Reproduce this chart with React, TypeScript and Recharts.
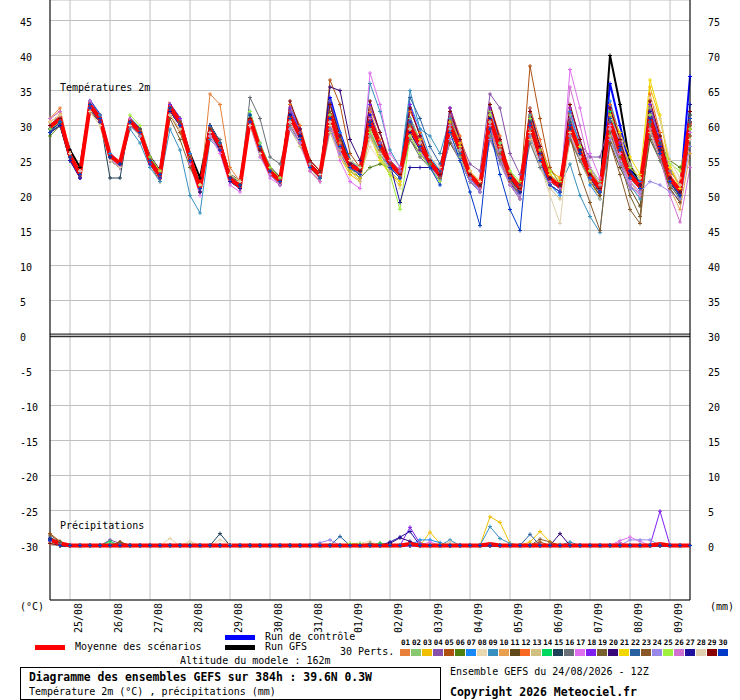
import React from 'react';
import { LineChart, Line, XAxis, YAxis, CartesianGrid, ReferenceLine } from 'recharts';

// GEFS ensemble: 2m temperature (top panel, left axis) and precipitation
// (bottom panel, right axis in mm, shifted so that 0 mm sits on -30 °C).

const MONO = "'DejaVu Sans Mono', monospace";

const DATES = ['25/08', '26/08', '27/08', '28/08', '29/08', '30/08', '31/08', '01/09', '02/09', '03/09', '04/09', '05/09', '06/09', '07/09', '08/09', '09/09'];
const DATE_STEPS = [2, 6, 10, 14, 18, 22, 26, 30, 34, 38, 42, 46, 50, 54, 58, 62];
const TEMP_TICKS = [45, 40, 35, 30, 25, 20, 15, 10, 5, 0, -5, -10, -15, -20, -25, -30];
const MM_TICKS = [75, 70, 65, 60, 55, 50, 45, 40, 35, 30, 25, 20, 15, 10, 5, 0];
const TEMP_DOMAIN = [-37.786, 47.929];
const MM_DOMAIN = [-7.786, 77.929];

const COLORS = ['#e8803a', '#88c870', '#f0c000', '#8850a8', '#b05010', '#508010', '#1888f8', '#e8d8b0', '#3890c0', '#e8a050',
  '#604818', '#f86820', '#d0c080', '#00d860', '#204058', '#687078', '#e070f0', '#8020f0', '#786030', '#380878',
  '#f0d800', '#2860a0', '#885828', '#9888e8', '#a0f040', '#d070d0', '#2010a0', '#e0d0b0', '#880000', '#0038c8'];

// temperatures every 6h from 24/08 12Z (65 steps)
const T_MEAN = [29.8, 31, 25.7, 23.1, 32.9, 31, 25.7, 24.6, 30.6, 29.1, 24.8, 22.9, 32.7, 30.5, 25.3, 21, 29.3, 27.2, 22.4, 21.3, 31, 26.7, 23.4, 22.1, 31.3, 28.6, 24.3, 22.9, 31.7, 27.2, 24.3, 23.6, 30.6, 27.2, 24.6, 23.1, 29.8, 27.2, 24.8, 22.9, 30, 26.7, 22.9, 21.4, 31, 26.7, 22.9, 21, 30.3, 25.7, 22.4, 21.3, 30, 26.3, 22.9, 21, 30.6, 26.3, 22.9, 21.3, 31, 26.7, 22.4, 20.7, 30.6];
const T_CTRL = [29.5, 30.5, 25.5, 23, 33.5, 31.5, 26, 24.5, 31, 29.5, 25.5, 23.5, 33, 31, 25.5, 21, 30, 27.5, 22.5, 21.5, 31.5, 27, 23.5, 22, 32, 29, 24.5, 22.5, 34, 29, 25, 23.5, 31.5, 27.5, 24.5, 23, 31, 27.5, 24.5, 22.5, 31, 27, 23, 21.5, 30.5, 26, 22, 20, 31, 26, 22.5, 21, 30.5, 26.5, 23, 21, 36, 30, 24, 21.5, 31.5, 27, 22.5, 20.5, 37];
const T_GFS = [29.5, 30.5, 26.5, 24, 33, 31, 25.5, 24.5, 30.5, 29, 25.5, 23.5, 32.5, 30.5, 26, 22.5, 30, 27.5, 23, 22, 31, 27, 24, 22.5, 31.5, 28.5, 24.5, 23, 31.5, 27, 24, 23.5, 30.5, 27.5, 24.5, 23.5, 30, 27, 25, 23, 30.5, 27, 23, 21, 31, 26.5, 22.5, 20.5, 30.5, 26, 22.5, 21.5, 30, 26, 22.5, 20.5, 40, 33, 24.5, 21.5, 31.5, 26.5, 22, 20, 30.5];

const T01 = [31, 32.5, 26, 23.5, 33.5, 31.5, 26, 24, 31, 29.5, 25, 23.5, 33, 31, 25, 20.5, 34.5, 33, 24, 22, 30.5, 26, 23, 21.5, 32, 29, 25, 23.5, 31, 26.5, 24, 23, 32, 28, 25, 23.5, 29, 26.5, 24.5, 22.5, 31.5, 27.5, 23.5, 22, 29.5, 25, 21.5, 19.5, 32, 27, 23.5, 22.5, 28.5, 25, 22, 20, 33, 28, 24, 22.5, 29.5, 25.5, 21.5, 19.5, 28.5];
const T02 = [29, 30.5, 25, 22.5, 32.5, 30.5, 25.5, 24.5, 30, 28.5, 24.5, 22.5, 32, 30, 26, 21.5, 30, 27.5, 22.5, 21, 31.5, 27, 24, 22.5, 30.5, 28, 24, 22.5, 33, 28, 25, 24, 29.5, 26, 23.5, 22, 31, 28, 25.5, 23.5, 29, 25.5, 22, 20.5, 32, 27.5, 23.5, 21.5, 29.5, 24.5, 21.5, 20.5, 31.5, 27.5, 24, 22, 29, 25, 22, 20.5, 32.5, 27.5, 23.5, 21.5, 31.5];
const T03 = [30.5, 31.5, 26, 23.5, 33, 31, 25, 24, 31, 29.5, 25.5, 23.5, 33, 31, 25, 20.5, 29, 26.5, 22, 21, 30.5, 26, 23, 21.5, 31, 28, 23.5, 22, 30.5, 25.5, 23, 22, 29, 25.5, 23, 21.5, 30.5, 28, 25, 23.5, 31, 27.5, 23.5, 22, 30, 26, 22, 20, 31.5, 27, 23.5, 22.5, 30.5, 27, 23.5, 21, 31, 26.5, 23, 21, 35.5, 31, 24, 21.5, 29.5];
const T04 = [30, 31, 25.5, 23, 32.5, 30.5, 25, 24, 30.5, 29, 24.5, 22.5, 32, 30, 25, 20.5, 29, 26.5, 22, 21, 31, 26.5, 23.5, 22, 32, 29, 25, 23.5, 31, 26.5, 24.5, 23, 31, 27.5, 25, 23.5, 30, 27.5, 25, 23, 31.5, 28, 24.5, 23.5, 34.5, 32.5, 26, 23, 29.5, 26, 22.5, 21.5, 31, 27.5, 25.5, 25.5, 30.5, 26.5, 23, 21, 32, 28.5, 23.5, 21.5, 32];
const T05 = [29.5, 31, 25.5, 23, 33.5, 31.5, 26, 24.5, 30, 28.5, 24.5, 22, 31.5, 29, 25, 21, 30, 27.5, 23, 22, 31, 26.5, 23.5, 22, 31, 28, 24, 22.5, 36.5, 33, 26, 24, 30, 26.5, 24, 22.5, 30.5, 27, 24.5, 22.5, 30.5, 27, 23.5, 21.5, 30, 25.5, 22.5, 20.5, 38.5, 31, 24, 21.5, 29, 25.5, 22, 20, 31, 27, 23, 21, 30, 26, 22, 20, 31];
const T06 = [28.5, 30, 25, 23, 32, 30.5, 25.5, 24.5, 30, 28.5, 25, 23, 31.5, 29.5, 25, 21.5, 28.5, 26.5, 22.5, 21.5, 30, 26, 23, 22, 30.5, 28, 24.5, 23, 30, 27, 24, 22.5, 24, 24.5, 24, 23, 29, 26.5, 24.5, 22.5, 29.5, 26, 22.5, 21, 30, 26, 22.5, 21, 29.5, 25, 22, 21, 30.5, 26.5, 23, 21.5, 29.5, 25.5, 22.5, 21, 30.5, 27.5, 25, 24, 27];
const T07 = [30, 31.5, 26, 23.5, 33.5, 31.5, 26, 24.5, 31, 29.5, 25, 23, 33, 31, 26, 21.5, 29.5, 27.5, 23, 22, 32, 27.5, 24, 22.5, 33, 29.5, 24.5, 23, 33.5, 29, 24.5, 23.5, 32.5, 29, 25, 23.5, 33, 29.5, 25.5, 23.5, 32.5, 28, 22.5, 20.5, 33, 27.5, 22, 20, 32.5, 27, 21.5, 20, 32, 27, 21.5, 19.5, 33.5, 28.5, 23.5, 22, 33, 28, 22, 20, 33];
const T08 = [30.5, 31.5, 25.5, 23, 32, 30, 25, 24, 30, 28.5, 24.5, 22.5, 31.5, 29.5, 25.5, 21.5, 28.5, 26.5, 22.5, 21.5, 30, 26, 23.5, 22, 30, 27.5, 24, 22.5, 30, 25.5, 23.5, 23, 27, 25, 24, 21, 28.5, 26.5, 25, 23.5, 29, 26, 23, 21.5, 30.5, 26.5, 23, 21.5, 30, 26, 23, 21.5, 29.5, 26, 23, 21.5, 29.5, 26, 22.5, 21, 31.5, 29, 24.5, 21.5, 28];
const T09 = [29.5, 30.5, 25, 22.5, 32.5, 30.5, 25, 24, 29.5, 27.5, 24, 22, 29.5, 26.5, 20, 17.5, 28, 26.5, 22.5, 21, 31, 27, 23.5, 22, 31.5, 28.5, 24.5, 23, 31, 27, 24, 23, 36, 32, 26.5, 24, 35, 29.5, 28.5, 26, 31, 27, 23, 21.5, 30, 25.5, 21.5, 19.5, 31.5, 26, 23, 21.5, 24.5, 20, 17, 14.7, 29, 25, 21.5, 19.5, 30, 26, 21.5, 19.5, 29];
const T10 = [31, 32, 26, 23.5, 33, 31, 25.5, 24, 30.5, 29, 25, 23, 32, 30, 25.5, 21, 29.5, 27.5, 23, 22, 30.5, 26, 23, 21.5, 30.5, 28, 24, 22.5, 31.5, 27.5, 25, 24, 30, 27, 25, 23.5, 29.5, 27, 24.5, 22.5, 29.5, 26.5, 23, 21.5, 31.5, 27, 23, 21, 29.5, 25, 22, 21, 30.5, 27, 23.5, 21.5, 30, 26, 22.5, 21, 33, 28, 21, 18, 26];
const T11 = [29, 30.5, 25.5, 23, 32.5, 30.5, 25.5, 24.5, 30, 29, 25, 23, 32, 30, 25, 20.5, 29, 27, 22.5, 21.5, 30.5, 26.5, 23.5, 22, 31, 28, 24, 22.5, 29.5, 26.5, 24, 23, 28.5, 26, 24, 22.5, 28, 26, 24.5, 23, 27.5, 25, 22, 20.5, 28, 25, 22, 20, 28.5, 25, 22, 21, 28, 25, 22, 20, 27.5, 24, 21, 18.5, 28, 25, 21, 19, 29.5];
const T12 = [30.5, 31.5, 26, 23.5, 33, 31, 25.5, 24.5, 31, 29.5, 25.5, 23.5, 33, 31, 25.5, 21, 30, 27.5, 22.5, 21.5, 31, 27, 24, 22.5, 33, 30, 25, 23.5, 33, 28.5, 24, 23, 32.5, 29, 25, 23.5, 32, 29, 25, 23, 32.5, 28.5, 23.5, 21.5, 33, 28.5, 23, 21.5, 32.5, 28, 23, 21.5, 32.5, 28, 23.5, 21.5, 33, 28.5, 23.5, 21.5, 34.5, 29, 23, 21, 30.5];
const T13 = [30, 31, 25.5, 23, 32, 30, 25, 24, 30.5, 29, 24.5, 22.5, 32.5, 30.5, 25, 21, 29, 26.5, 22, 21, 30.5, 26, 23, 21.5, 29.5, 27, 24, 22, 29, 25.5, 23.5, 22, 28.5, 25.5, 23.5, 22, 28, 25.5, 24, 22, 28, 25, 22.5, 21, 28.5, 25, 22, 20.5, 28, 24, 21, 19.5, 28, 25, 22, 19.5, 28.5, 25, 22, 20, 29, 25, 21.5, 19.5, 30];
const T14 = [29.5, 30.5, 25.5, 23, 33, 31, 25.5, 24.5, 30.5, 29, 25, 23, 32.5, 30.5, 25, 21, 29.5, 27, 22.5, 21.5, 31.5, 27, 23.5, 22, 31, 28, 24, 22.5, 33.5, 28.5, 25, 24, 31, 27.5, 24.5, 23, 30, 27, 24.5, 22.5, 30, 26.5, 23, 21.5, 30.5, 26, 22.5, 20.5, 31, 26, 22.5, 21, 30, 26, 22.5, 20.5, 32, 27, 23, 21.5, 30, 25.5, 22, 20, 31];
const T15 = [29, 30, 25, 23, 33, 31, 22.5, 22.5, 31, 29.5, 25.5, 23, 32, 30, 25, 21, 29.5, 27, 22.5, 21.5, 30.5, 26, 23, 21.5, 31.5, 28.5, 24.5, 22.5, 31, 27, 24, 23, 30, 27, 24.5, 23, 30.5, 27.5, 25, 23, 29.5, 26, 22.5, 21, 31, 26.5, 22.5, 20.5, 30, 25.5, 22, 21, 29.5, 26, 22.5, 20.5, 31, 27, 23, 21.5, 30.5, 26.5, 22.5, 20.5, 31.5];
const T16 = [30, 31, 26, 23.5, 32.5, 30.5, 25.5, 24, 30, 29, 25, 23, 32, 30.5, 25.5, 21, 29.5, 28, 23, 21.5, 34, 31, 25.5, 24.5, 30, 27.5, 24, 22.5, 29.5, 26, 23.5, 22.5, 29, 26, 24, 22.5, 28, 25.5, 24, 22, 28, 25, 22, 20.5, 28.5, 25, 22, 20, 27.5, 24, 21.5, 20.5, 28, 25, 22.5, 20.5, 28, 25, 22.5, 21, 28.5, 25, 21.5, 19.5, 29];
const T17 = [30.5, 31.5, 25.5, 23, 33.5, 31, 25.5, 24, 31, 29, 24.5, 22.5, 32.5, 30.5, 24.5, 20, 28.5, 26, 21.5, 20.5, 30, 26, 22.5, 21.5, 30.5, 28, 23.5, 22, 30.5, 25, 22, 21, 37.5, 33, 26, 24, 29.5, 26.5, 24, 22.5, 29.5, 26, 22.5, 20.5, 30.5, 26, 22, 20, 29.5, 25, 21.5, 20.5, 38, 32.5, 26, 22.5, 30, 26, 22, 20.5, 30.5, 26, 22, 20, 29];
const T18 = [29.5, 30.5, 25, 22.5, 32.5, 30.5, 25, 24, 30, 28.5, 24.5, 22.5, 33, 31, 25.5, 21.5, 29.5, 27, 22.5, 21.5, 31, 26.5, 23.5, 22, 32.5, 29.5, 24.5, 23, 33.5, 28.5, 24.5, 23.5, 33, 29, 24.5, 23, 33, 28.5, 25, 23, 32.5, 28, 23, 21.5, 32.5, 28, 23, 21, 32, 27, 22.5, 21.5, 32.5, 28, 23.5, 21.5, 32.5, 27.5, 23, 21.5, 33, 28, 22.5, 20.5, 31];
const T19 = [30, 31, 25.5, 23, 32, 30.5, 25.5, 24.5, 30.5, 29, 25, 23, 31, 28, 24, 21, 29, 27, 22.5, 21.5, 30.5, 26.5, 23.5, 22, 31, 28.5, 24.5, 23, 31.5, 27, 24.5, 23.5, 30, 27, 24.5, 23, 29.5, 27, 25, 23, 29.5, 26, 22.5, 21, 30.5, 26.5, 22.5, 21, 30, 25.5, 22.5, 21.5, 29.5, 26, 22.5, 20.5, 29, 25, 20, 17, 30.5, 26.5, 22.5, 20.5, 30];
const T20 = [29.5, 30.5, 25.5, 23, 33, 31, 25.5, 24.5, 30.5, 29, 25, 23, 32.5, 30.5, 25.5, 21, 29.5, 27, 22.5, 21.5, 31, 26.5, 23.5, 22, 31.5, 28.5, 24.5, 23, 35.5, 35, 28, 25, 31, 27.5, 25, 23.5, 29, 26.5, 25, 23.5, 30, 26.5, 23, 21.5, 31, 26.5, 23, 21.5, 30.5, 26, 22.5, 21.5, 29.5, 26, 23, 21.5, 31, 27, 23.5, 21.5, 31, 26.5, 22, 20, 31];
const T21 = [30.5, 31.5, 26, 23.5, 33, 31, 25.5, 24.5, 30.5, 29, 24.5, 22.5, 32.5, 30.5, 25.5, 21.5, 29.5, 27, 22.5, 21.5, 31, 26.5, 23.5, 22, 31, 28, 24, 22.5, 31, 26.5, 23.5, 22.5, 28.5, 25, 23, 22, 30, 27, 25, 23, 30.5, 27, 23.5, 21.5, 31, 26.5, 23, 21, 30.5, 26, 23, 21.5, 30.5, 27, 23.5, 21.5, 31.5, 29, 25.5, 23, 36.5, 31.5, 24, 21, 31];
const T22 = [29.5, 30.5, 25, 23, 32.5, 30.5, 25.5, 24.5, 30, 28.5, 24.5, 22.5, 32, 30, 25, 21, 29, 26.5, 22, 21, 30.5, 26, 23, 21.5, 31, 28, 24, 22.5, 31, 27, 24, 23, 30, 27, 24.5, 23, 34, 31, 27, 24.5, 29.5, 26, 22.5, 21, 31, 26.5, 22.5, 20.5, 30, 25.5, 22, 21, 30, 26.5, 23, 21, 30.5, 26.5, 23, 21.5, 30.5, 26, 22, 20, 30.5];
const T23 = [29, 30, 25.5, 23, 32, 30.5, 25, 24, 30, 28.5, 24.5, 22.5, 32, 30, 25, 21, 29, 26.5, 22.5, 21, 30.5, 26, 23, 21.5, 31, 28, 24, 22.5, 32, 28, 25, 23.5, 30.5, 27, 24.5, 23, 30, 27, 24.5, 22.5, 30, 26.5, 23, 21, 30.5, 26, 22, 20, 29.5, 25, 21.5, 20.5, 28.5, 23, 19, 15, 27.5, 23, 18, 16, 30, 25.5, 21, 19, 28.5];
const T24 = [30, 31, 25.5, 23, 32.5, 30.5, 25.5, 24, 30, 28.5, 24.5, 22.5, 32.5, 30.5, 25.5, 21, 29, 26.5, 22, 21, 30.5, 26, 23, 21.5, 29.5, 27.5, 24, 22.5, 29.5, 26, 24, 23, 28.5, 26, 24, 22.5, 28.5, 26, 24, 22, 28, 25, 22, 20.5, 28, 24.5, 21.5, 20, 28.5, 24.5, 21.5, 20.5, 28.5, 25.5, 22.5, 20.5, 28, 24.5, 21, 20.5, 22, 21.5, 20.5, 19.5, 27];
const T25 = [29.5, 30.5, 25.5, 23, 33, 31, 25.5, 24.5, 31.5, 30, 25.5, 23.5, 32.5, 30.5, 25.5, 21.5, 30, 27.5, 23, 22, 32, 27.5, 24, 22.5, 31, 28, 24, 22.5, 31.5, 27, 24, 23, 29, 25.5, 23, 18, 28.5, 26, 24, 22, 30, 26.5, 23, 21.5, 31.5, 27.5, 23.5, 22, 31, 26.5, 23.5, 22, 30.5, 27, 23.5, 21.5, 31, 27, 24, 22.5, 31.5, 27.5, 24.5, 23.5, 29.5];
const T26 = [31, 32, 26, 23.5, 33, 31, 25.5, 24, 30.5, 29, 24.5, 22.5, 32, 30, 25, 21, 29, 26.5, 22, 21, 30, 25.5, 23, 21.5, 30.5, 27.5, 23.5, 22, 31, 26.5, 24, 23, 31, 27.5, 25, 23.5, 30.5, 27.5, 25, 23, 30, 26.5, 22.5, 21, 30, 25.5, 21.5, 19.5, 30, 25.5, 22, 21, 35.5, 30, 24, 21.5, 29.5, 25, 21.5, 20, 29.5, 25.5, 20, 16.2, 24];
const T27 = [29, 30, 25, 22.5, 32.5, 30.5, 25.5, 24.5, 30, 28.5, 24.5, 22.5, 32, 30, 25, 20.5, 29, 26.5, 22, 21, 30.5, 26.5, 23.5, 22, 31.5, 28.5, 24.5, 23, 31, 27, 24.5, 23.5, 30, 27, 24.5, 19, 24, 24, 24, 23, 29.5, 26.5, 23, 21.5, 31, 26.5, 22.5, 20.5, 30.5, 26, 22.5, 21.5, 30.5, 26.5, 23, 21, 31, 27, 23.5, 21.5, 32, 27.5, 22.5, 20.5, 33];
const T28 = [30.5, 31.5, 26, 23.5, 32, 30, 25, 24, 30, 28.5, 25, 23, 31.5, 29.5, 25.5, 21.5, 29, 27, 23, 22, 30, 26, 23.5, 22, 30.5, 28, 24.5, 23, 30.5, 27, 25, 24, 28, 26, 24.5, 23, 29.5, 27.5, 25.5, 24, 29.5, 26.5, 23.5, 22, 30.5, 26.5, 23, 21, 29, 24.5, 20, 16, 29, 25.5, 22.5, 21, 31, 28, 24.5, 22.5, 34, 31, 25, 22.5, 28];
const T29 = [30, 31, 25.5, 23, 33, 31, 25.5, 24.5, 30.5, 29, 25, 23, 32.5, 30.5, 25.5, 21, 29.5, 27, 22.5, 21.5, 31, 26.5, 23.5, 22, 33.5, 29.5, 25, 23.5, 33, 28.5, 24.5, 23.5, 33.5, 29, 24.5, 23, 32.5, 28.5, 25, 23, 32, 28, 23, 21.5, 33, 28, 23, 21, 32, 27, 22.5, 21.5, 33, 28, 23, 21, 32.5, 28, 23, 21.5, 33.5, 28.5, 22.5, 20.5, 32];
const T30 = [29, 30.5, 25.5, 23, 33, 31, 25.5, 24.5, 30.5, 29, 25, 23, 32.5, 30, 25, 21, 30, 27.5, 22.5, 21.5, 31.5, 27, 23.5, 22, 31, 28, 24, 22.5, 31, 27, 24, 23, 30.5, 27, 24, 22.5, 30.5, 27, 24, 21.5, 29, 25, 20.5, 15.7, 29.5, 23, 18, 15, 30, 25, 21.5, 20.5, 30, 26, 22.5, 20.5, 31, 26.5, 22.5, 21, 31, 26, 22, 20, 31];

// precipitation in mm, [step, value] for the steps that are not 0
const R_MEAN = [[0, 0.8], [1, 0.3], [36, 0.2], [44, 0.2], [61, 0.2]];
const R_CTRL = [[0, 0.5]];
const R_GFS = [[0, 0.6], [36, 0.3]];
const R01 = [[0, 0.5], [1, 0.3]];
const R02 = [[0, 0.4], [6, 0.4], [33, 0.4]];
const R03 = [[0, 0.3], [38, 1.9], [39, 0.3], [44, 4.1], [45, 3.3], [46, 0.3], [48, 0.5], [49, 2], [50, 0.5]];
const R04 = [[0, 0.6], [6, 0.8], [7, 0.3]];
const R05 = [[0, 1.7], [1, 0.6], [7, 0.5], [49, 0.5]];
const R06 = [[0, 0.3]];
const R07 = [[0, 0.8], [37, 0.8], [38, 0.8], [39, 0.4]];
const R08 = [[0, 0.4], [12, 1], [17, 0.8], [18, 0.2], [31, 0.3], [32, 0.6]];
const R09 = [[0, 0.6], [40, 0.8], [44, 2.7], [45, 1], [46, 0.3], [52, 0.5]];
const R10 = [[0, 0.3], [37, 0.4]];
const R11 = [[0, 0.5], [7, 0.4], [32, 0.3]];
const R12 = [[0, 0.3]];
const R13 = [[0, 0.4], [14, 0.3]];
const R14 = [[0, 0.5], [6, 0.6], [33, 0.3]];
const R15 = [[0, 1], [1, 0.4], [17, 1.7]];
const R16 = [[0, 0.4]];
const R17 = [[0, 0.5], [38, 0.5], [57, 0.7], [58, 1.2], [59, 0.6]];
const R18 = [[0, 0.3], [36, 2.6], [37, 0.3], [61, 4.9]];
const R19 = [[0, 0.4]];
const R20 = [[0, 0.5], [34, 0.3], [35, 1.1], [36, 0.6], [51, 1.7]];
const R21 = [[0, 0.3]];
const R22 = [[0, 1.2], [1, 0.4], [29, 1.3], [48, 1.6]];
const R23 = [[0, 1.5], [1, 0.5], [7, 0.5], [49, 0.9], [50, 0.5]];
const R24 = [[0, 0.3], [27, 0.4], [28, 0.8], [58, 0.8], [59, 0.8], [60, 0.8]];
const R25 = [[0, 0.4], [30, 0.3], [31, 0.3]];
const R26 = [[0, 0.6], [57, 0.4]];
const R27 = [[0, 0.9], [34, 0.5], [35, 1.2], [36, 2]];
const R28 = [[0, 0.4], [14, 0.6], [40, 0.5]];
const R29 = [[0, 0.3]];
const R30 = [[0, 0.7]];

const TEMP_PERTS = [T01, T02, T03, T04, T05, T06, T07, T08, T09, T10, T11, T12, T13, T14, T15, T16, T17, T18, T19, T20, T21, T22, T23, T24, T25, T26, T27, T28, T29, T30];
const RAIN_PERTS = [R01, R02, R03, R04, R05, R06, R07, R08, R09, R10, R11, R12, R13, R14, R15, R16, R17, R18, R19, R20, R21, R22, R23, R24, R25, R26, R27, R28, R29, R30];

const rainAt = (pairs: number[][], i: number) => {
  const hit = pairs.find((p) => p[0] === i);
  return hit ? hit[1] : 0;
};

const rows = T_MEAN.map((_, i) => {
  const row: Record<string, number> = { i, tm: T_MEAN[i], tc: T_CTRL[i], tg: T_GFS[i], rm: rainAt(R_MEAN, i), rc: rainAt(R_CTRL, i), rg: rainAt(R_GFS, i) };
  TEMP_PERTS.forEach((arr, m) => { row[`t${m}`] = arr[i]; });
  RAIN_PERTS.forEach((pairs, m) => { row[`r${m}`] = rainAt(pairs, i); });
  return row;
});

/* eslint-disable @typescript-eslint/no-explicit-any */
function Cross({ cx, cy, color }: any) {
  if (cx == null || cy == null) return null;
  return <path d={`M${cx - 2},${cy}H${cx + 2}M${cx},${cy - 2}V${cy + 2}`} stroke={color} strokeWidth={1} fill="none" />;
}

function LeftTick({ y, payload }: any) {
  return <text x={20} y={y + 2} dominantBaseline="central" fontFamily={MONO} fontSize={10} fill="#000">{payload.value}</text>;
}

function RightTick({ y, payload }: any) {
  return <text x={708} y={y + 2} dominantBaseline="central" fontFamily={MONO} fontSize={10} fill="#000">{payload.value}</text>;
}

function DateTick({ x, payload }: any) {
  const label = DATES[DATE_STEPS.indexOf(payload.value)];
  return (
    <text transform={`translate(${x + 8},603) rotate(-90)`} textAnchor="end" dominantBaseline="central" fontFamily={MONO} fontSize={10} fill="#000">
      {label}
    </text>
  );
}
/* eslint-enable @typescript-eslint/no-explicit-any */

const txt = (left: number, cy: number, size = 10, bold = false): React.CSSProperties => ({
  position: 'absolute', left, top: cy - 7, height: 14, lineHeight: '14px', fontFamily: MONO,
  fontSize: size, fontWeight: bold ? 'bold' : 'normal', whiteSpace: 'pre', color: '#000',
});

export default function App() {
  return (
    <div style={{ position: 'absolute', left: 0, top: 0, width: 740, height: 700, background: '#fff', overflow: 'hidden' }}>
      <LineChart width={740} height={700} data={rows} margin={{ top: 0, right: 0, bottom: 0, left: 0 }}>
        <CartesianGrid yAxisId="l" stroke="#c0c0c0" strokeWidth={1} />
        <XAxis dataKey="i" type="number" domain={[0, 64]} ticks={DATE_STEPS} interval={0} height={100}
          axisLine={{ stroke: '#000' }} tickLine={false} tick={<DateTick />} />
        <YAxis yAxisId="l" type="number" domain={TEMP_DOMAIN} allowDataOverflow ticks={TEMP_TICKS} interval={0} width={50}
          axisLine={{ stroke: '#000' }} tickLine={false} tick={<LeftTick />} />
        <YAxis yAxisId="r" orientation="right" type="number" domain={MM_DOMAIN} allowDataOverflow ticks={MM_TICKS} interval={0} width={50}
          axisLine={{ stroke: '#000' }} tickLine={false} tick={<RightTick />} />
        <ReferenceLine yAxisId="l" y={0.2} stroke="#000" strokeWidth={1} />
        <ReferenceLine yAxisId="l" y={-0.17} stroke="#000" strokeWidth={1} />

        <Line yAxisId="l" dataKey="tc" type="linear" stroke="#0000ff" strokeWidth={2} dot={<Cross color="#0000ff" />} activeDot={false} isAnimationActive={false} />
        <Line yAxisId="l" dataKey="tg" type="linear" stroke="#000000" strokeWidth={2} dot={<Cross color="#000000" />} activeDot={false} isAnimationActive={false} />
        <Line yAxisId="r" dataKey="rc" type="linear" stroke="#0000ff" strokeWidth={2} dot={false} activeDot={false} isAnimationActive={false} />
        <Line yAxisId="r" dataKey="rg" type="linear" stroke="#000000" strokeWidth={2} dot={false} activeDot={false} isAnimationActive={false} />
        {COLORS.map((c, m) => (
          <Line key={`t${m}`} yAxisId="l" dataKey={`t${m}`} type="linear" stroke={c} strokeWidth={1}
            dot={<Cross color={c} />} activeDot={false} isAnimationActive={false} />
        ))}
        {COLORS.map((c, m) => (
          <Line key={`r${m}`} yAxisId="r" dataKey={`r${m}`} type="linear" stroke={c} strokeWidth={1}
            dot={<Cross color={c} />} activeDot={false} isAnimationActive={false} />
        ))}
        <Line yAxisId="l" dataKey="tm" type="linear" stroke="#ff0000" strokeWidth={4} dot={false} activeDot={false} isAnimationActive={false} />
        <Line yAxisId="r" dataKey="rm" type="linear" stroke="#ff0000" strokeWidth={4} dot={false} activeDot={false} isAnimationActive={false} />
      </LineChart>

      <div style={txt(60, 88)}>Températures 2m</div>
      <div style={txt(60, 526)}>Précipitations</div>
      <div style={txt(20, 607)}>(°C)</div>
      <div style={txt(710, 607)}>(mm)</div>

      <div style={{ position: 'absolute', left: 35, top: 645, width: 30, height: 5, background: '#ff0000' }} />
      <div style={txt(75, 647)}>Moyenne des scénarios</div>
      <div style={{ position: 'absolute', left: 225, top: 635, width: 30, height: 5, background: '#0000ff' }} />
      <div style={txt(265, 637)}>Run de contrôle</div>
      <div style={{ position: 'absolute', left: 225, top: 645, width: 30, height: 5, background: '#000000' }} />
      <div style={txt(265, 647)}>Run GFS</div>
      <div style={txt(340, 652)}>30 Perts.</div>
      <div style={txt(180, 661)}>Altitude du modele : 162m</div>

      {COLORS.map((c, m) => (
        <React.Fragment key={c + m}>
          <div style={{ position: 'absolute', left: 400 + m * 10.95, top: 638, width: 11, textAlign: 'center', fontFamily: MONO, fontSize: 7.5, fontWeight: 'bold', lineHeight: '10px' }}>
            {String(m + 1).padStart(2, '0')}
          </div>
          <div style={{ position: 'absolute', left: 400 + m * 10.95, top: 649, width: 10, height: 7, background: c }} />
        </React.Fragment>
      ))}

      <div style={{ position: 'absolute', left: 20, top: 667, width: 419, height: 31, border: '1px solid #000' }} />
      <div style={txt(29, 677, 11.4, true)}>Diagramme des ensembles GEFS sur 384h : 39.6N 0.3W</div>
      <div style={txt(29, 692)}>Température 2m (°C) , précipitations (mm)</div>
      <div style={txt(450, 672)}>Ensemble GEFS du 24/08/2026 - 12Z</div>
      <div style={txt(450, 692, 11.5, true)}>Copyright 2026 Meteociel.fr</div>
    </div>
  );
}
